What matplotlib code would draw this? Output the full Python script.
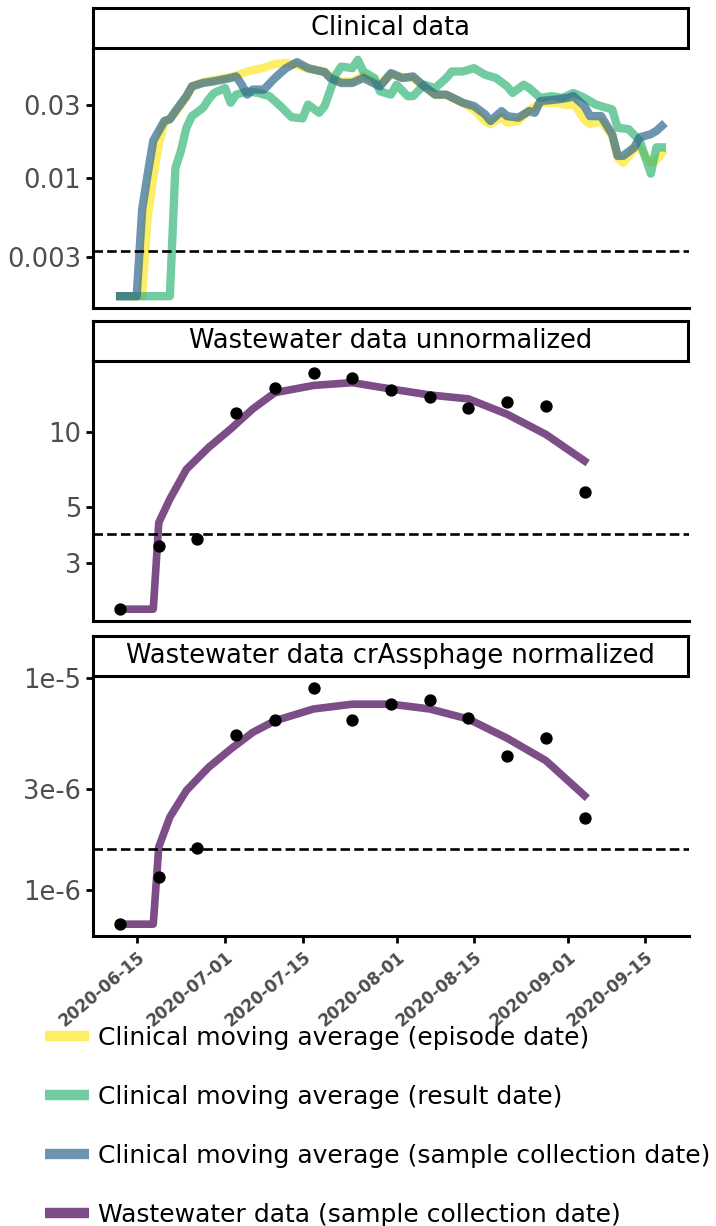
import matplotlib
matplotlib.use("Agg")
import matplotlib.pyplot as plt
import pandas as pd
from matplotlib.lines import Line2D
from matplotlib.ticker import NullLocator

START = pd.Timestamp("2020-06-15")

# clinical 7-day moving averages, days after 2020-06-15
episode_days = [-3, 1, 2, 3, 4, 5, 6, 7, 9, 10, 12, 14, 17, 18, 20, 21, 23, 25, 27, 29,
                31, 34, 35, 37, 39, 41, 44, 46, 48, 50, 52, 54, 56, 59, 61, 63, 64, 66,
                67, 69, 71, 72, 73, 76, 78, 79, 81, 82, 84, 86, 87, 88, 90, 91, 93, 94, 95]
episode_vals = [0.00165, 0.00165, 0.0055, 0.0100, 0.0165, 0.0230, 0.0245, 0.0267, 0.034,
                0.040, 0.0425, 0.044, 0.046, 0.047, 0.050, 0.051, 0.053, 0.056, 0.057,
                0.055, 0.052, 0.050, 0.046, 0.043, 0.043, 0.047, 0.041, 0.048, 0.046,
                0.045, 0.040, 0.035, 0.035, 0.031, 0.028, 0.0235, 0.0225, 0.025, 0.023,
                0.0235, 0.028, 0.029, 0.031, 0.031, 0.030, 0.031, 0.024, 0.0225, 0.0235,
                0.019, 0.0135, 0.0125, 0.0155, 0.0155, 0.0125, 0.013, 0.0145]

result_days = [-3, 6, 7, 8, 9, 10, 12, 13, 14, 16, 17, 18, 20, 22, 24, 26, 28, 30, 31, 33,
               34, 36, 37, 39, 40, 41, 43, 44, 46, 47, 49, 50, 52, 54, 56, 57, 59, 61, 63,
               65, 67, 68, 70, 71, 73, 75, 77, 79, 81, 83, 86, 87, 89, 91, 92, 93, 94, 95]
result_vals = [0.00165, 0.00165, 0.0115, 0.0150, 0.0213, 0.0254, 0.0288, 0.0327, 0.0361,
               0.0389, 0.0311, 0.0352, 0.037, 0.0361, 0.0344, 0.0296, 0.0250, 0.0245,
               0.0303, 0.0267, 0.0296, 0.0476, 0.0539, 0.0526, 0.0597, 0.050, 0.0453,
               0.037, 0.0352, 0.0409, 0.0344, 0.0344, 0.0409, 0.0389, 0.0453, 0.050,
               0.050, 0.0526, 0.0476, 0.0453, 0.0399, 0.0361, 0.0409, 0.0389, 0.0335,
               0.0344, 0.0335, 0.0361, 0.0335, 0.0303, 0.0281, 0.0213, 0.0208, 0.01745,
               0.0136, 0.0106, 0.0158, 0.0158]

collection_days = [-3, 0, 1, 2, 3, 5, 6, 7, 9, 10, 12, 14, 17, 18, 19, 20, 21, 23, 25, 27,
                   29, 31, 34, 35, 37, 39, 41, 44, 46, 48, 50, 52, 54, 56, 59, 61, 63, 64,
                   66, 67, 69, 71, 72, 73, 76, 78, 79, 81, 82, 84, 86, 87, 88, 90, 91, 93,
                   94, 95]
collection_vals = [0.00165, 0.00165, 0.0062, 0.0106, 0.0175, 0.0236, 0.0242, 0.0274, 0.0344,
                   0.0399, 0.042, 0.0431, 0.0453, 0.0464, 0.0409, 0.0352, 0.038, 0.038,
                   0.0453, 0.0526, 0.0576, 0.0526, 0.0495, 0.0453, 0.042, 0.042, 0.0453,
                   0.0399, 0.0488, 0.0453, 0.0464, 0.0399, 0.0352, 0.0352, 0.0311, 0.0296,
                   0.0261, 0.0236, 0.0274, 0.0254, 0.0248, 0.0274, 0.0267, 0.0319, 0.0327,
                   0.0335, 0.0344, 0.0296, 0.0254, 0.0254, 0.0193, 0.0139, 0.0139, 0.0158,
                   0.0184, 0.0193, 0.0203, 0.0219]

# weekly wastewater samples
sample_days = [-3, 4, 11, 18, 25, 32, 39, 46, 53, 60, 67, 74, 81]
ww_raw = [1.95, 3.48, 3.72, 11.9, 15.0, 17.3, 16.5, 14.7, 13.9, 12.5, 13.2, 12.7, 5.74]
ww_norm = [6.92e-7, 1.15e-6, 1.58e-6, 5.40e-6, 6.35e-6, 8.98e-6, 6.35e-6, 7.55e-6,
           7.88e-6, 6.49e-6, 4.30e-6, 5.23e-6, 2.20e-6]

# smoothed wastewater trend
fit_days = [-3, 3, 4, 6, 9, 13, 17, 21, 25, 32, 39, 46, 53, 60, 67, 74, 81]
fit_raw = [1.95, 1.95, 4.34, 5.39, 7.10, 8.68, 10.3, 12.4, 14.4, 15.4, 15.8, 14.9, 14.1,
           13.6, 11.8, 9.8, 7.67]
fit_norm = [6.92e-7, 6.92e-7, 1.60e-6, 2.21e-6, 2.95e-6, 3.79e-6, 4.62e-6, 5.54e-6,
            6.28e-6, 7.14e-6, 7.52e-6, 7.52e-6, 7.14e-6, 6.40e-6, 5.20e-6, 4.08e-6, 2.79e-6]

thresholds = [0.0033, 3.9, 1.57e-6]
titles = ["Clinical data", "Wastewater data unnormalized",
          "Wastewater data crAssphage normalized"]
yticks = [[0.003, 0.01, 0.03], [3, 5, 10], [1e-6, 3e-6, 1e-5]]
yticklabels = [["0.003", "0.01", "0.03"], ["3", "5", "10"], ["1e-6", "3e-6", "1e-5"]]
xtick_dates = ["2020-06-15", "2020-07-01", "2020-07-15", "2020-08-01",
               "2020-08-15", "2020-09-01", "2020-09-15"]

legend_labels = ["Clinical moving average (episode date)",
                 "Clinical moving average (result date)",
                 "Clinical moving average (sample collection date)",
                 "Wastewater data (sample collection date)"]
colors = ["#fde725", "#35b779", "#31688e", "#440154"]


def to_dates(days):
    return START + pd.to_timedelta(days, unit="D")


W, H = 716, 1226


def box(left, top, right, bottom):
    return [left / W, 1 - bottom / H, (right - left) / W, (bottom - top) / H]


fig = plt.figure(figsize=(W / 100, H / 100), dpi=100)
plt.rcParams["font.family"] = ["DejaVu Sans"]

panel_tops = [48, 361, 676]
panel_h = 260
left, right = 93, 689
strip_h = 40

axes = []
for i, top in enumerate(panel_tops):
    ax = fig.add_axes(box(left, top, right, top + panel_h),
                      sharex=axes[0] if axes else None)
    axes.append(ax)

    strip = fig.add_axes(box(left, top - strip_h, right - 1, top))
    strip.set_xticks([])
    strip.set_yticks([])
    for sp in strip.spines.values():
        sp.set_linewidth(2.2)
    strip.text(0.5, 0.5, titles[i], ha="center", va="center", fontsize=18.5,
               transform=strip.transAxes)

ax1, ax2, ax3 = axes

clinical = [(episode_days, episode_vals), (result_days, result_vals),
            (collection_days, collection_vals)]
for (days, vals), c in zip(clinical, colors[:3]):
    ax1.plot(to_dates(days), vals, color=c, lw=6, alpha=0.7)

for ax, pts, fit in [(ax2, ww_raw, fit_raw), (ax3, ww_norm, fit_norm)]:
    ax.plot(to_dates(fit_days), fit, color=colors[3], lw=5.5, alpha=0.7)
    ax.scatter(to_dates(sample_days), pts, s=62, color="black", zorder=3)

for i, ax in enumerate(axes):
    ax.set_yscale("log")
    ax.axhline(thresholds[i], color="black", lw=1.9, ls=(0, (3.6, 1.6)))
    ax.set_yticks(yticks[i])
    ax.set_yticklabels(yticklabels[i])
    ax.yaxis.set_minor_locator(NullLocator())
    ax.spines["top"].set_visible(False)
    ax.spines["right"].set_visible(False)
    for side in ["left", "bottom"]:
        ax.spines[side].set_linewidth(2.2)
    ax.tick_params(axis="y", length=5, width=2, labelsize=18.5, labelcolor="#4d4d4d")
    ax.tick_params(axis="x", length=5, width=2, labelsize=12, labelcolor="#4d4d4d")

ax3.set_xticks(pd.to_datetime(xtick_dates))
ax3.set_xticklabels(xtick_dates, rotation=40, ha="right", va="top",
                    rotation_mode="anchor", fontweight="bold")
for ax in (ax1, ax2):
    ax.tick_params(axis="x", bottom=False, labelbottom=False)

handles = [Line2D([], [], color=c, lw=7.5, alpha=0.7, solid_capstyle="butt")
           for c in colors]
fig.legend(handles, legend_labels, loc="upper left",
           bbox_to_anchor=(45 / W, 1 - 1026 / H), frameon=False, fontsize=18,
           handlelength=1.75, handletextpad=0.35, labelspacing=1.4,
           borderaxespad=0, borderpad=0)

fig.savefig("out.png", dpi=100)
